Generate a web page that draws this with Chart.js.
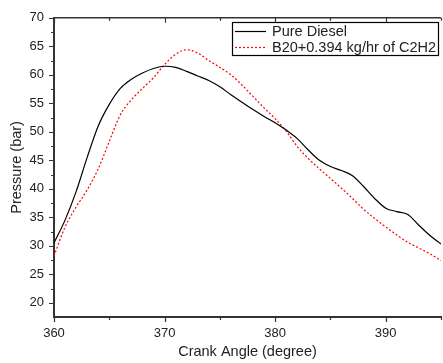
<!DOCTYPE html>
<html>
<head>
<meta charset="utf-8">
<script src="https://cdn.jsdelivr.net/npm/chart.js@4"></script>
<style>
  html, body { margin: 0; padding: 0; background: #fff; overflow: hidden; }
  #wrap { width: 450px; height: 363px; }
</style>
</head>
<body>
<div id="wrap"><canvas id="pressureChart"></canvas></div>
<script>
// Crank angle (degree) for both series
const crankAngle = [360, 361, 362, 363, 364, 365, 366, 367, 368, 369, 370, 371, 372, 373, 374, 375, 376, 377,
                    378, 379, 380, 381, 382, 383, 384, 385, 386, 387, 388, 389, 390, 391, 392, 393, 394, 395];

// Pressure (bar), Pure Diesel
const pureDiesel = [30.5, 34.5, 39.5, 45.5, 51.0, 54.8, 57.6, 59.2, 60.3, 61.1, 61.5, 61.3, 60.6, 59.8, 59.0, 57.9, 56.5, 55.2,
                    53.9, 52.7, 51.6, 50.3, 48.8, 46.8, 45.0, 43.9, 43.2, 42.3, 40.4, 38.3, 36.6, 36.0, 35.5, 33.6, 31.8, 30.3];

// Pressure (bar), B20 + 0.394 kg/hr of C2H2
const b20C2H2 = [28.2, 33.3, 36.8, 39.8, 43.5, 48.3, 53.0, 55.6, 57.6, 59.5, 61.8, 63.6, 64.4, 63.8, 62.5, 61.3, 60.0, 58.2,
                 56.2, 54.2, 52.3, 50.1, 47.4, 45.3, 43.5, 41.8, 40.1, 38.3, 36.4, 34.8, 33.3, 31.9, 30.6, 29.6, 28.6, 27.4];

const seriesLabels = ['Pure Diesel', 'B20+0.394 kg/hr of C2H2'];
const xTickLabels = [360, 370, 380, 390];
const yTickLabels = [20, 25, 30, 35, 40, 45, 50, 55, 60, 65, 70];

const axisColor = '#333';
const textColor = '#222';
const fontFamily = '"Liberation Sans", Arial, sans-serif';

function toPoints(xs, ys) {
    return xs.map((x, i) => ({ x: x, y: ys[i] }));
}

function isLabelled(list, v) {
    return list.some(t => Math.abs(t - v) < 1e-6);
}

// Ticks on all sides (major + minor), top axis line and the boxed legend
const framePlugin = {
    id: 'frame',
    afterDraw(chart) {
        const ctx = chart.ctx;
        const area = chart.chartArea;
        const xs = chart.scales.x;
        const ys = chart.scales.y;
        ctx.save();
        ctx.strokeStyle = axisColor;
        ctx.lineWidth = 1.5;

        // top axis line
        ctx.beginPath();
        ctx.moveTo(area.left, area.top);
        ctx.lineTo(area.right, area.top);
        ctx.stroke();

        ctx.lineWidth = 1.2;
        ctx.beginPath();
        for (let v = 360; v <= 395; v += 5) {
            const px = Math.round(xs.getPixelForValue(v)) + 0.5;
            const len = isLabelled(xTickLabels, v) ? 5 : 3;
            ctx.moveTo(px, area.bottom);
            ctx.lineTo(px, area.bottom + len);
            ctx.moveTo(px, area.top);
            ctx.lineTo(px, area.top + len);
        }
        for (let v = 20; v <= 70; v += 2.5) {
            const py = Math.round(ys.getPixelForValue(v)) + 0.5;
            const len = isLabelled(yTickLabels, v) ? 5 : 3;
            ctx.moveTo(area.left, py);
            ctx.lineTo(area.left - len, py);
        }
        ctx.stroke();

        // legend
        const boxL = 232, boxT = 22, boxR = 438, boxB = 55;
        ctx.fillStyle = '#fff';
        ctx.fillRect(boxL, boxT, boxR - boxL, boxB - boxT);
        ctx.strokeStyle = '#000';
        ctx.lineWidth = 1.2;
        ctx.strokeRect(boxL + 0.5, boxT + 0.5, boxR - boxL, boxB - boxT);

        ctx.font = '14.5px ' + fontFamily;
        ctx.textBaseline = 'middle';
        ctx.textAlign = 'left';
        chart.data.datasets.forEach((ds, i) => {
            const y = 31 + i * 16;
            ctx.strokeStyle = ds.borderColor;
            ctx.lineWidth = ds.borderWidth;
            ctx.setLineDash(ds.borderDash || []);
            ctx.beginPath();
            ctx.moveTo(235, y + 0.5);
            ctx.lineTo(266, y + 0.5);
            ctx.stroke();
            ctx.setLineDash([]);
            ctx.fillStyle = textColor;
            ctx.fillText(ds.label, 272, y + 1);
        });
        ctx.restore();
    }
};

new Chart(document.getElementById('pressureChart'), {
    type: 'line',
    data: {
        datasets: [
            {
                label: seriesLabels[0],
                data: toPoints(crankAngle, pureDiesel),
                borderColor: '#000',
                borderWidth: 1.2,
                pointRadius: 0,
                cubicInterpolationMode: 'monotone',
                fill: false
            },
            {
                label: seriesLabels[1],
                data: toPoints(crankAngle, b20C2H2),
                borderColor: '#ff0000',
                borderWidth: 1.2,
                borderDash: [2, 2],
                pointRadius: 0,
                cubicInterpolationMode: 'monotone',
                fill: false
            }
        ]
    },
    options: {
        responsive: true,
        maintainAspectRatio: false,
        animation: false,
        layout: { padding: { top: 14, right: 3, left: 0, bottom: 0 } },
        plugins: {
            legend: { display: false },
            tooltip: { enabled: false }
        },
        scales: {
            x: {
                type: 'linear',
                min: 360,
                max: 395,
                grid: { display: false, drawTicks: false },
                border: { display: true, color: axisColor, width: 2 },
                ticks: {
                    stepSize: 5,
                    padding: 9,
                    autoSkip: false,
                    color: textColor,
                    maxRotation: 0,
                    font: { family: fontFamily, size: 13 },
                    callback: v => isLabelled(xTickLabels, v) ? String(Math.round(v)) : ''
                },
                title: {
                    display: true,
                    text: 'Crank Angle (degree)',
                    color: textColor,
                    font: { family: fontFamily, size: 14.5 },
                    padding: { top: 0, bottom: 2 }
                },
                afterFit: scale => { scale.height = 46; }
            },
            y: {
                min: 17.5,
                max: 70,
                grid: { display: false, drawTicks: false },
                border: { display: true, color: axisColor, width: 2 },
                ticks: {
                    stepSize: 2.5,
                    padding: 10,
                    autoSkip: false,
                    color: textColor,
                    font: { family: fontFamily, size: 13 },
                    callback: v => isLabelled(yTickLabels, v) ? String(Math.round(v)) : ''
                },
                title: {
                    display: true,
                    text: 'Pressure (bar)',
                    color: textColor,
                    font: { family: fontFamily, size: 14.5 },
                    padding: { top: 8, bottom: 0 }
                },
                afterFit: scale => { scale.width = 54; }
            }
        }
    },
    plugins: [framePlugin]
});
</script>
</body>
</html>
